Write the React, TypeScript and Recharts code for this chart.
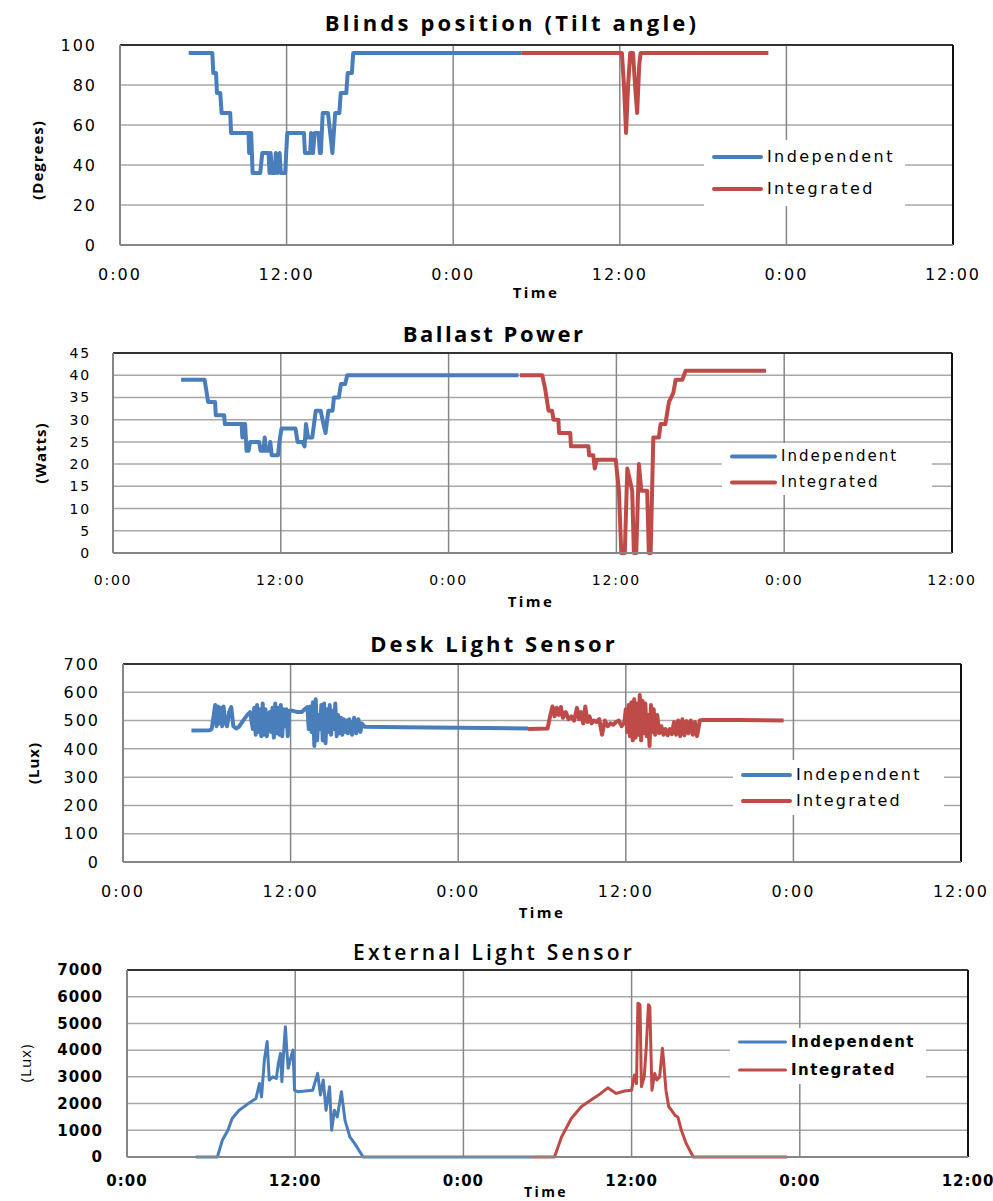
import type { CSSProperties, ReactNode } from 'react';
import { CartesianGrid, Line, LineChart, ReferenceLine, XAxis, YAxis } from 'recharts';

// Excel-2007 style palette
const BLUE = '#4a7ebb';
const RED = '#be4b48';
const H_GRID = '#a8a8a8';
const V_GRID = '#868686';
const AXIS = '#868686';
const TICK_FONT = '"DejaVu Sans", Verdana, sans-serif';
const LABEL_FONT = '"Open Sans", "Noto Sans", sans-serif';

const HOUR_TICKS = [0, 12, 24, 36, 48, 60];
const SERIES_NAMES = ['Independent', 'Integrated'];

// ---- Blinds position (degrees) ----
const blindsIndHours = [4.95, 6.65, 6.72, 6.92, 6.98, 7.22, 7.32, 7.94, 8.0, 9.26, 9.3, 9.38, 9.45, 9.55, 10.1, 10.25, 10.7, 10.77, 10.85, 10.95, 11.15, 11.22, 11.35, 11.5, 11.58, 11.9, 11.97, 12.05, 13.25, 13.32, 13.7, 13.76, 13.84, 13.9, 14.02, 14.3, 14.4, 14.47, 14.6, 14.98, 15.3, 15.4, 15.5, 15.8, 15.9, 16.3, 16.4, 16.7, 16.8, 28.9];
const blindsIndDeg = [96, 96, 86, 86, 76, 76, 66, 66, 56, 56, 46, 56, 56, 36, 36, 46, 46, 36, 46, 36, 36, 46, 36, 46, 36, 36, 46, 56, 56, 46, 46, 56, 46, 46, 56, 56, 46, 46, 66, 66, 46, 56, 66, 66, 76, 76, 86, 86, 96, 96];
const blindsIntHours = [28.9, 36.15, 36.3, 36.45, 36.6, 36.75, 36.95, 37.1, 37.25, 37.4, 37.5, 46.7];
const blindsIntDeg = [96, 96, 80, 56, 80, 96, 96, 80, 66, 90, 96, 96];

// ---- Ballast power (W) ----
const ballastIndHours = [4.87, 6.55, 6.65, 6.8, 7.3, 7.35, 7.95, 8.0, 9.2, 9.25, 9.35, 9.45, 9.55, 9.7, 9.8, 10.45, 10.55, 10.75, 10.85, 10.95, 11.15, 11.25, 11.35, 11.8, 11.9, 12.05, 13.05, 13.2, 13.55, 13.7, 13.8, 13.95, 14.25, 14.5, 14.85, 15.05, 15.2, 15.4, 15.7, 15.8, 16.15, 16.3, 16.6, 16.75, 29.0];
const ballastIndWatts = [39, 39, 37, 34, 34, 31, 31, 29, 29, 26, 29, 29, 23, 23, 25, 25, 23, 23, 26, 23, 23, 25, 22, 22, 25, 28, 28, 25, 25, 24, 29, 26, 26, 32, 32, 29, 27, 32, 32, 35, 35, 38, 38, 40, 40];
const ballastIntHours = [29.1, 30.7, 30.9, 31.15, 31.4, 31.5, 31.85, 31.9, 32.7, 32.75, 34.0, 34.05, 34.35, 34.45, 34.6, 35.95, 36.18, 36.35, 36.6, 36.78, 37.13, 37.25, 37.42, 37.61, 37.78, 38.2, 38.32, 38.45, 38.64, 39.04, 39.16, 39.5, 39.76, 40.07, 40.24, 40.72, 40.95, 46.7];
const ballastIntWatts = [40, 40, 37, 32, 32, 30, 30, 27, 27, 24, 24, 22, 22, 19, 21, 21, 14, 0, 0, 19, 14, 0, 0, 20, 14, 14, 0, 0, 26, 26, 29, 29, 34, 36, 39, 39, 41, 41];

// ---- Desk light sensor (lux) ----
const deskIndHours = [4.9, 6.2, 6.35, 6.5, 6.6, 6.7, 6.8, 6.9, 7.0, 7.1, 7.2, 7.3, 7.45, 7.6, 7.75, 7.9, 8.1, 8.3, 8.6, 8.9, 9.1, 9.3, 9.4, 9.5, 9.6, 9.7, 9.8, 9.9, 10.0, 10.1, 10.2, 10.3, 10.4, 10.5, 10.6, 10.7, 10.8, 10.9, 11.0, 11.1, 11.2, 11.3, 11.4, 11.5, 11.6, 11.7, 11.8, 11.9, 12.1, 12.5, 12.8, 13.0, 13.2, 13.3, 13.4, 13.5, 13.6, 13.7, 13.8, 13.9, 14.0, 14.1, 14.2, 14.3, 14.4, 14.5, 14.6, 14.7, 14.8, 14.9, 15.0, 15.1, 15.2, 15.3, 15.4, 15.5, 15.6, 15.7, 15.8, 15.9, 16.0, 16.1, 16.2, 16.4, 16.55, 16.7, 16.85, 17.0, 17.1, 17.3, 20.0, 24.0, 26.0, 29.0];
const deskIndLux = [465, 466, 470, 520, 555, 480, 550, 490, 545, 480, 550, 500, 480, 530, 548, 480, 472, 478, 500, 520, 530, 470, 545, 450, 555, 460, 540, 445, 560, 450, 540, 445, 520, 530, 460, 545, 440, 560, 455, 545, 450, 555, 445, 540, 480, 540, 445, 535, 535, 530, 530, 540, 548, 470, 550, 460, 565, 410, 575, 430, 520, 470, 555, 430, 560, 420, 540, 460, 555, 450, 535, 470, 560, 445, 520, 455, 510, 450, 505, 460, 500, 455, 505, 450, 510, 455, 505, 460, 490, 478, 476, 475, 474, 472];
const deskIntHours = [29.0, 30.4, 30.6, 30.75, 30.9, 31.05, 31.2, 31.35, 31.5, 31.7, 31.9, 32.1, 32.3, 32.5, 32.65, 32.8, 32.95, 33.1, 33.25, 33.4, 33.55, 33.7, 33.9, 34.1, 34.3, 34.5, 34.7, 34.9, 35.1, 35.3, 35.5, 35.7, 35.9, 36.0, 36.1, 36.2, 36.3, 36.4, 36.5, 36.6, 36.7, 36.8, 36.9, 37.0, 37.1, 37.2, 37.3, 37.4, 37.5, 37.6, 37.7, 37.8, 37.9, 38.0, 38.1, 38.25, 38.4, 38.55, 38.7, 38.85, 39.0, 39.15, 39.3, 39.45, 39.6, 39.75, 39.9, 40.05, 40.2, 40.35, 40.5, 40.65, 40.8, 40.95, 41.1, 41.3, 41.5, 44.0, 47.3];
const deskIntLux = [470, 472, 520, 550, 515, 545, 520, 548, 510, 530, 505, 515, 500, 545, 505, 530, 490, 550, 495, 515, 490, 500, 495, 505, 450, 500, 480, 490, 485, 495, 500, 480, 495, 540, 460, 555, 445, 565, 430, 575, 440, 560, 450, 590, 430, 570, 455, 560, 445, 520, 410, 555, 460, 540, 450, 520, 455, 480, 450, 470, 448, 470, 452, 495, 450, 500, 445, 505, 448, 498, 455, 500, 450, 495, 445, 500, 502, 502, 500];

// ---- External light sensor (lux) ----
const extIndHours = [4.9, 6.45, 6.8, 7.2, 7.5, 8.0, 8.6, 9.2, 9.45, 9.6, 9.8, 10.0, 10.15, 10.4, 10.65, 10.8, 10.95, 11.05, 11.2, 11.3, 11.4, 11.5, 11.7, 11.85, 11.95, 12.2, 13.25, 13.6, 13.8, 14.0, 14.2, 14.45, 14.6, 14.8, 15.0, 15.3, 15.55, 15.9, 16.25, 16.85, 28.9];
const extIndLux = [0, 0, 626, 1000, 1440, 1750, 1980, 2190, 2750, 2250, 3630, 4320, 2880, 3000, 2940, 3500, 3880, 2820, 4130, 4880, 4000, 3320, 3750, 4000, 2500, 2440, 2500, 3130, 2320, 2880, 1750, 2630, 1000, 1750, 1500, 2440, 1380, 750, 500, 0, 0];
const extIntHours = [28.9, 30.5, 31.0, 31.7, 32.4, 33.1, 33.8, 34.3, 34.9, 35.5, 36.0, 36.2, 36.35, 36.45, 36.6, 36.7, 36.9, 37.05, 37.2, 37.3, 37.45, 37.65, 37.8, 38.0, 38.2, 38.3, 38.45, 38.65, 38.85, 39.1, 39.3, 39.55, 39.9, 40.4, 47.1];
const extIntLux = [0, 0, 750, 1440, 1880, 2130, 2380, 2590, 2380, 2470, 2500, 3070, 2750, 5760, 5700, 2630, 3000, 4130, 5700, 5630, 2500, 3130, 2880, 3000, 4070, 3500, 2500, 1880, 1750, 1560, 1500, 1000, 500, 0, 0];

interface Pt {
  t: number;
  v: number;
}
const toPts = (hours: number[], vals: number[]): Pt[] => hours.map((t, i) => ({ t, v: vals[i] }));
const fmtHour = (h: number) => `${h % 24}:00`;

interface PanelProps {
  top: number;
  height: number;
  margin: { top: number; right: number; bottom: number; left: number };
  yWidth: number;
  yTicks: number[];
  ind: Pt[];
  int: Pt[];
  lineWidth: number;
  tick: { fontSize: number; letterSpacing: number; fontWeight?: number };
  xTickMargin: number;
  yTickMargin: number;
}

function Panel({ top, height, margin, yWidth, yTicks, ind, int, lineWidth, tick, xTickMargin, yTickMargin }: PanelProps) {
  const yMax = yTicks[yTicks.length - 1];
  const tickStyle = { fill: '#000', fontFamily: TICK_FONT, ...tick };
  return (
    <div style={{ position: 'absolute', left: 0, top, width: 993, height }}>
      <LineChart width={993} height={height} margin={margin}>
        <CartesianGrid vertical={false} stroke={H_GRID} strokeWidth={1.5} />
        <CartesianGrid horizontal={false} stroke={V_GRID} strokeWidth={1.5} />
        <XAxis
          dataKey="t"
          type="number"
          domain={[0, 60]}
          ticks={HOUR_TICKS}
          interval={0}
          tickFormatter={fmtHour}
          tickLine={false}
          tickSize={0}
          tickMargin={xTickMargin}
          axisLine={{ stroke: AXIS, strokeWidth: 2 }}
          tick={tickStyle}
          height={30}
        />
        <YAxis
          type="number"
          domain={[0, yMax]}
          ticks={yTicks}
          interval={0}
          width={yWidth}
          tickLine={false}
          tickSize={0}
          tickMargin={yTickMargin}
          axisLine={{ stroke: AXIS, strokeWidth: 2 }}
          tick={tickStyle}
        />
        <ReferenceLine y={yMax} stroke="#333" strokeWidth={2} />
        <ReferenceLine x={60} stroke="#111" strokeWidth={2} />
        <Line data={ind} dataKey="v" name={SERIES_NAMES[0]} type="linear" stroke={BLUE} strokeWidth={lineWidth} strokeLinejoin="round" dot={false} isAnimationActive={false} />
        <Line data={int} dataKey="v" name={SERIES_NAMES[1]} type="linear" stroke={RED} strokeWidth={lineWidth} strokeLinejoin="round" dot={false} isAnimationActive={false} />
      </LineChart>
    </div>
  );
}

function Txt({ x, y, children, style, rotate }: { x: number; y: number; children: ReactNode; style?: CSSProperties; rotate?: boolean }) {
  return (
    <div
      style={{
        position: 'absolute',
        left: x,
        top: y,
        whiteSpace: 'nowrap',
        lineHeight: 1,
        fontFamily: LABEL_FONT,
        color: '#000',
        transform: `translate(-50%, -50%)${rotate ? ' rotate(-90deg)' : ''}`,
        ...style,
      }}
    >
      {children}
    </div>
  );
}

interface LegendBoxProps {
  left: number;
  top: number;
  width: number;
  height: number;
  rowGap: number;
  swatch: number;
  lineWidth: number;
  fontSize: number;
  letterSpacing: number;
  fontWeight?: number;
}

function LegendBox({ left, top, width, height, rowGap, swatch, lineWidth, fontSize, letterSpacing, fontWeight }: LegendBoxProps) {
  const colors = [BLUE, RED];
  return (
    <div style={{ position: 'absolute', left, top, width, height, background: '#fff' }}>
      {SERIES_NAMES.map((n, i) => (
        <div
          key={n}
          style={{ position: 'absolute', left: 8, top: height / 2 - rowGap / 2 + i * rowGap, transform: 'translateY(-50%)', display: 'flex', alignItems: 'center' }}
        >
          <div style={{ width: swatch, height: lineWidth, background: colors[i], borderRadius: 2 }} />
          <span style={{ marginLeft: 4, fontFamily: TICK_FONT, fontSize, letterSpacing, fontWeight, lineHeight: 1 }}>{n}</span>
        </div>
      ))}
    </div>
  );
}

const titleStyle: CSSProperties = { fontWeight: 700, fontSize: 22 };
const axisTitleStyle: CSSProperties = { fontWeight: 700, fontSize: 15, letterSpacing: 1 };
const timeStyle: CSSProperties = { fontWeight: 700, fontSize: 15, letterSpacing: 2.4 };

export default function App() {
  return (
    <div style={{ position: 'absolute', left: 0, top: 0, width: 993, height: 1201, background: '#fff', overflow: 'hidden' }}>
      {/* Blinds */}
      <Panel
        top={0}
        height={300}
        margin={{ top: 45, right: 40, bottom: 25, left: 0 }}
        yWidth={120}
        yTicks={[0, 20, 40, 60, 80, 100]}
        ind={toPts(blindsIndHours, blindsIndDeg)}
        int={toPts(blindsIntHours, blindsIntDeg)}
        lineWidth={4}
        tick={{ fontSize: 16, letterSpacing: 2 }}
        xTickMargin={24}
        yTickMargin={23}
      />
      <Txt x={512} y={22} style={{ ...titleStyle, letterSpacing: 3.2 }}>Blinds position (Tilt angle)</Txt>
      <Txt x={37} y={160} rotate style={axisTitleStyle}>(Degrees)</Txt>
      <Txt x={536} y={292} style={timeStyle}>Time</Txt>
      <LegendBox left={704} top={140} width={201} height={66} rowGap={32} swatch={51} lineWidth={4} fontSize={16} letterSpacing={2.4} />

      {/* Ballast */}
      <Panel
        top={310}
        height={300}
        margin={{ top: 43, right: 41, bottom: 27, left: 0 }}
        yWidth={113}
        yTicks={[0, 5, 10, 15, 20, 25, 30, 35, 40, 45]}
        ind={toPts(ballastIndHours, ballastIndWatts)}
        int={toPts(ballastIntHours, ballastIntWatts)}
        lineWidth={4}
        tick={{ fontSize: 14, letterSpacing: 1.8 }}
        xTickMargin={22}
        yTickMargin={22}
      />
      <Txt x={494} y={333} style={{ ...titleStyle, letterSpacing: 2.5 }}>Ballast Power</Txt>
      <Txt x={40} y={453} rotate style={axisTitleStyle}>(Watts)</Txt>
      <Txt x={531} y={601} style={timeStyle}>Time</Txt>
      <LegendBox left={722} top={443} width={210} height={52} rowGap={26} swatch={47} lineWidth={4} fontSize={15} letterSpacing={2} />

      {/* Desk light */}
      <Panel
        top={620}
        height={300}
        margin={{ top: 44, right: 32, bottom: 28, left: 0 }}
        yWidth={123}
        yTicks={[0, 100, 200, 300, 400, 500, 600, 700]}
        ind={toPts(deskIndHours, deskIndLux)}
        int={toPts(deskIntHours, deskIntLux)}
        lineWidth={4}
        tick={{ fontSize: 16, letterSpacing: 2 }}
        xTickMargin={24}
        yTickMargin={23}
      />
      <Txt x={494} y={643} style={{ ...titleStyle, letterSpacing: 3.1 }}>Desk Light Sensor</Txt>
      <Txt x={33} y={763} rotate style={axisTitleStyle}>(Lux)</Txt>
      <Txt x={542} y={912} style={timeStyle}>Time</Txt>
      <LegendBox left={733} top={760} width={211} height={55} rowGap={26} swatch={51} lineWidth={4} fontSize={16} letterSpacing={2.2} />

      {/* External light */}
      <Panel
        top={930}
        height={271}
        margin={{ top: 40, right: 25, bottom: 14, left: 0 }}
        yWidth={127}
        yTicks={[0, 1000, 2000, 3000, 4000, 5000, 6000, 7000]}
        ind={toPts(extIndHours, extIndLux)}
        int={toPts(extIntHours, extIntLux)}
        lineWidth={3}
        tick={{ fontSize: 15, letterSpacing: 1, fontWeight: 700 }}
        xTickMargin={18}
        yTickMargin={24}
      />
      <Txt x={494} y={952} style={{ fontWeight: 600, fontSize: 21, letterSpacing: 3.2 }}>External Light Sensor</Txt>
      <Txt x={25} y={1063} rotate style={{ fontSize: 15, letterSpacing: 1 }}>(Lux)</Txt>
      <Txt x={546} y={1192} style={{ ...timeStyle, fontSize: 14 }}>Time</Txt>
      <LegendBox left={730} top={1028} width={196} height={56} rowGap={28} swatch={49} lineWidth={3} fontSize={15} letterSpacing={1.5} fontWeight={700} />
    </div>
  );
}
